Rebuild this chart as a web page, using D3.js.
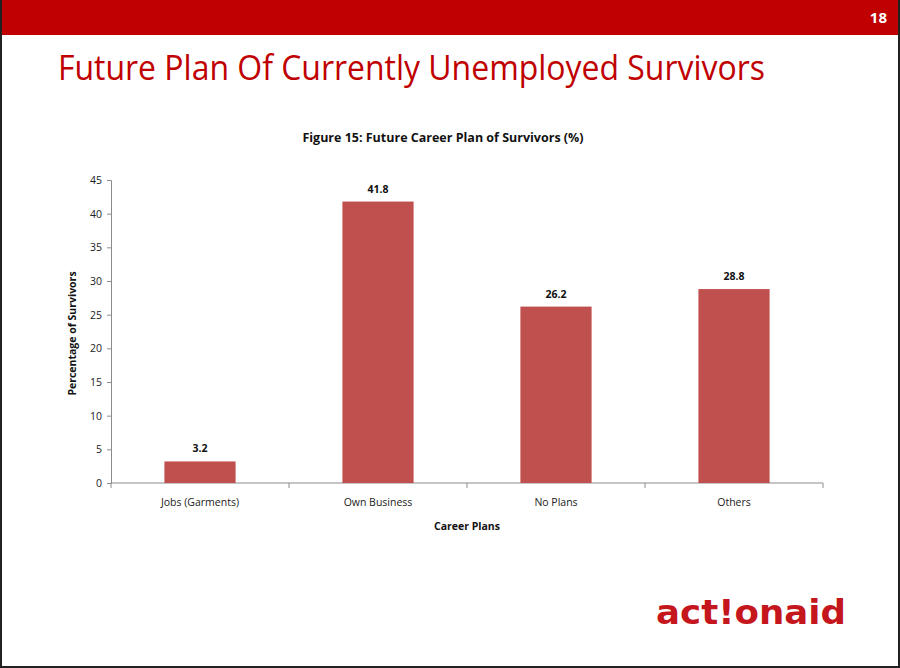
<!DOCTYPE html>
<html>
<head>
<meta charset="utf-8">
<script src="https://cdn.jsdelivr.net/npm/d3@7"></script>
<style>
  body { margin: 0; background: #fff; }
  svg { display: block; font-family: "Open Sans", "Noto Sans", sans-serif; }
</style>
</head>
<body>
<svg id="chart"></svg>
<script>
const svg_width = 900;
const svg_height = 668;

// data
const categories = ['Jobs (Garments)', 'Own Business', 'No Plans', 'Others'];
const values = [3.2, 41.8, 26.2, 28.8];
const yTicks = [0, 5, 10, 15, 20, 25, 30, 35, 40, 45];

const svg = d3.select('#chart')
  .attr('width', svg_width)
  .attr('height', svg_height);

// header band
svg.append('rect').attr('width', svg_width).attr('height', 35).attr('fill', '#C00000');
svg.append('text').text('18')
  .attr('x', 887).attr('y', 23)
  .attr('text-anchor', 'end')
  .attr('fill', '#fff').attr('font-weight', 'bold').attr('font-size', '15px');

// slide title
svg.append('text').text('Future Plan Of Currently Unemployed Survivors')
  .attr('x', 58).attr('y', 80)
  .attr('fill', '#C00000')
  .attr('font-size', '35px')
  .attr('textLength', 707).attr('lengthAdjust', 'spacingAndGlyphs');

const margin = {top: 180, right: 77, bottom: 185, left: 111};
const innerWidth = svg_width - margin.left - margin.right;
const innerHeight = svg_height - margin.top - margin.bottom;

const g = svg.append('g').attr('transform', `translate(${margin.left}, ${margin.top})`);

const x = d3.scaleBand().domain(categories).range([0, innerWidth]).paddingInner(0.6).paddingOuter(0.3);
const xEdges = d3.scaleLinear().domain([0, categories.length]).range([0, innerWidth]);
const y = d3.scaleLinear().domain([0, 45]).range([innerHeight, 0]);

// chart title
g.append('text').text('Figure 15: Future Career Plan of Survivors (%)')
  .attr('x', innerWidth / 2 - 24).attr('y', -38)
  .attr('text-anchor', 'middle')
  .attr('font-weight', 'bold').attr('font-size', '12.5px').attr('fill', '#111');

// y axis
const yAxis = g.append('g').call(d3.axisLeft(y).tickValues(yTicks).tickSize(4).tickPadding(5));
yAxis.select('.domain').attr('stroke', '#8c8c8c');
yAxis.selectAll('line').attr('stroke', '#8c8c8c');
yAxis.selectAll('text').attr('font-size', '10.5px').attr('fill', '#222').attr('font-family', '"Open Sans", sans-serif');

// x axis (ticks at category boundaries)
const xAxis = g.append('g').attr('transform', `translate(0, ${innerHeight})`);
xAxis.append('line').attr('x1', 0).attr('x2', innerWidth).attr('stroke', '#8c8c8c');
xAxis.selectAll('.tick')
  .data(d3.range(categories.length + 1))
  .join('line')
  .attr('x1', d => xEdges(d)).attr('x2', d => xEdges(d))
  .attr('y1', 0).attr('y2', 5)
  .attr('stroke', '#8c8c8c');
xAxis.selectAll('.xlabel')
  .data(categories)
  .join('text')
  .attr('class', 'xlabel')
  .attr('x', d => x(d) + x.bandwidth() / 2)
  .attr('y', 23)
  .attr('text-anchor', 'middle')
  .attr('font-size', '10.5px').attr('fill', '#222')
  .text(d => d);

// bars
g.selectAll('.bar')
  .data(values)
  .join('rect')
  .attr('class', 'bar')
  .attr('x', (d, i) => x(categories[i]))
  .attr('y', d => y(d))
  .attr('width', x.bandwidth())
  .attr('height', d => innerHeight - y(d))
  .attr('fill', '#C0504D');

// value labels
g.selectAll('.values')
  .data(values)
  .join('text')
  .attr('class', 'values')
  .attr('x', (d, i) => x(categories[i]) + x.bandwidth() / 2)
  .attr('y', d => y(d) - 9)
  .attr('text-anchor', 'middle')
  .attr('font-weight', 'bold').attr('font-size', '10.5px').attr('fill', '#111')
  .text(d => d);

// axis titles
g.append('text').text('Percentage of Survivors')
  .attr('transform', `translate(${-35}, ${innerHeight / 2 + 2}) rotate(-90)`)
  .attr('text-anchor', 'middle')
  .attr('font-weight', 'bold').attr('font-size', '10.5px').attr('fill', '#111');

g.append('text').text('Career Plans')
  .attr('x', innerWidth / 2).attr('y', innerHeight + 47)
  .attr('text-anchor', 'middle')
  .attr('font-weight', 'bold').attr('font-size', '10.5px').attr('fill', '#111');

// logo
svg.append('text').text('act!onaid')
  .attr('x', 656).attr('y', 624)
  .attr('fill', '#C4161C')
  .attr('font-family', '"DejaVu Sans", sans-serif')
  .attr('font-weight', 'bold').attr('font-size', '33px')
  .attr('textLength', 190).attr('lengthAdjust', 'spacingAndGlyphs');

// thin dark edges of the slide capture
const edges = [[1, 0, 1, svg_height], [0, svg_height - 1, svg_width, svg_height - 1], [svg_width - 1, 0, svg_width - 1, svg_height]];
svg.selectAll('.edge')
  .data(edges)
  .join('line')
  .attr('class', 'edge')
  .attr('x1', d => d[0]).attr('y1', d => d[1])
  .attr('x2', d => d[2]).attr('y2', d => d[3])
  .attr('stroke', '#222').attr('stroke-width', 2);
</script>
</body>
</html>
